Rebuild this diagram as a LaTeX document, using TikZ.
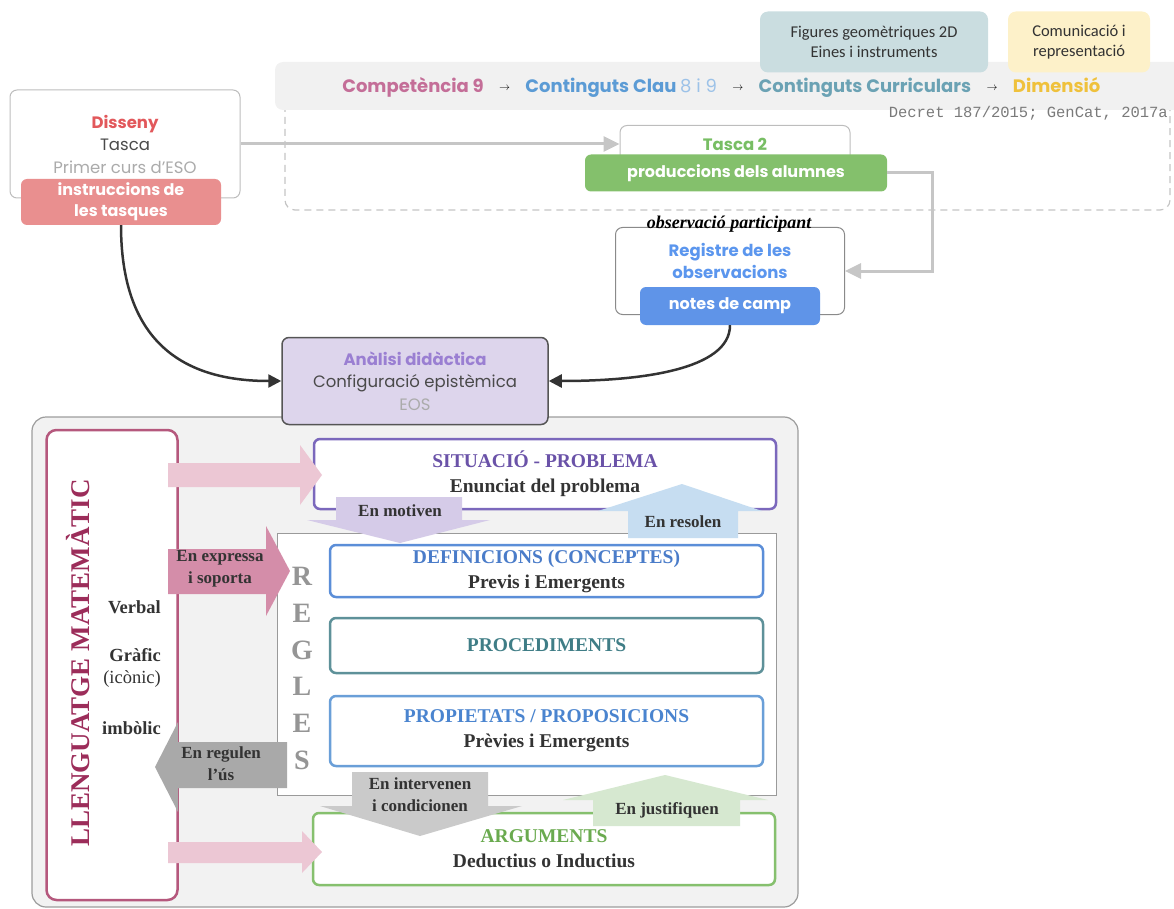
\documentclass[tikz,border=0pt]{standalone}
\usepackage{fontspec}
\setmainfont{Liberation Serif}
\newfontfamily\popfont{Poppins}
\newfontfamily\handfont{Carlito}
\newfontfamily\typefont{Liberation Mono}
\usetikzlibrary{positioning,arrows.meta}

\definecolor{txtdark}{HTML}{333333}
\definecolor{txtgray}{HTML}{4A4A4A}
\definecolor{paleTxt}{HTML}{ABABAB}
\definecolor{boxline}{HTML}{BDBDBD}
\definecolor{boxdark}{HTML}{8A8A8A}
\definecolor{dashline}{HTML}{C4C4C4}
\definecolor{band}{HTML}{F1F1F1}
\definecolor{compcol}{HTML}{C46E98}
\definecolor{claucol}{HTML}{5B9BD5}
\definecolor{claulight}{HTML}{9CC2E8}
\definecolor{curcol}{HTML}{6BA2B4}
\definecolor{dimcol}{HTML}{EFC13C}
\definecolor{geomfill}{HTML}{CADDE0}
\definecolor{dimfill}{HTML}{FDF1C9}
\definecolor{decretgray}{HTML}{7A7A7A}
\definecolor{dissred}{HTML}{E2585B}
\definecolor{tagred}{HTML}{E98F8F}
\definecolor{tascgreen}{HTML}{78BE64}
\definecolor{prodgreen}{HTML}{84C06C}
\definecolor{regblue}{HTML}{5B96EE}
\definecolor{notesblue}{HTML}{5F94E8}
\definecolor{linkgray}{HTML}{C6C6C6}
\definecolor{flowdark}{HTML}{333333}
\definecolor{analfill}{HTML}{DDD5EC}
\definecolor{analline}{HTML}{555555}
\definecolor{analpurple}{HTML}{9A7FD2}
\definecolor{panelfill}{HTML}{F2F2F2}
\definecolor{panelline}{HTML}{9C9C9C}
\definecolor{lengline}{HTML}{B5587D}
\definecolor{lengtext}{HTML}{9C2D5A}
\definecolor{sitline}{HTML}{7B68BC}
\definecolor{sitpurple}{HTML}{6A52A8}
\definecolor{reglesline}{HTML}{9A9A9A}
\definecolor{reglestxt}{HTML}{959595}
\definecolor{defline}{HTML}{5B8ED8}
\definecolor{defblue}{HTML}{4A7CC9}
\definecolor{procline}{HTML}{5E9199}
\definecolor{procteal}{HTML}{3F7D86}
\definecolor{propline}{HTML}{6A9FD8}
\definecolor{propblue}{HTML}{4A84CF}
\definecolor{argline}{HTML}{86C06E}
\definecolor{arggreen}{HTML}{6AAA4F}
\definecolor{pinksoft}{HTML}{ECC7D4}
\definecolor{pinkdeep}{HTML}{D48DA9}
\definecolor{graydeep}{HTML}{A9A9A9}
\definecolor{graysoft}{HTML}{CACACA}
\definecolor{lavsoft}{HTML}{D5CBE8}
\definecolor{bluesoft}{HTML}{C6DDF1}
\definecolor{greensoft}{HTML}{D6E8D0}

\newcommand\sansreg{\popfont\fontsize{16.5}{22.5}\selectfont}
\newcommand\sansbold{\popfont\bfseries\fontsize{16.5}{22}\selectfont}
\newcommand\bandfont{\popfont\bfseries\fontsize{18}{22}\selectfont}
\newcommand\tagfont{\popfont\bfseries\fontsize{16}{21}\selectfont}
\newcommand\handtxt{\handfont\fontsize{16.5}{20}\selectfont}
\newcommand\typetxt{\typefont\fontsize{15.5}{18}\selectfont}
\newcommand\obsfont{\bfseries\itshape\fontsize{18}{20}\selectfont}
\newcommand\boxfont{\bfseries\fontsize{19.5}{25}\selectfont}
\newcommand\lblfont{\bfseries\fontsize{17}{22}\selectfont}
\newcommand\sidefont{\bfseries\fontsize{18.5}{22}\selectfont}
\newcommand\reglefont{\bfseries\fontsize{28}{30}\selectfont}
\newcommand\lengfont{\bfseries\fontsize{27}{30}\selectfont}
\newcommand\smallarrow{{\fontsize{11}{12}\selectfont$\rightarrow$}}

\begin{document}
\begin{tikzpicture}[x=1pt,y=-1pt,node distance=15pt,
    box/.style={draw=boxline, line width=1pt, rounded corners=7pt, fill=white},
    tag/.style={rounded corners=6pt, text=white, align=center, font=\tagfont},
    link/.style={draw=linkgray, line width=3pt, -{Triangle[length=16pt,width=15pt]}},
    flow/.style={draw=flowdark, line width=2.5pt, -{Triangle[length=13pt,width=13pt]}},
    eos/.style={draw, line width=2.5pt, rounded corners=6pt, fill=white, align=center, font=\boxfont, text=txtdark},
    lbl/.style={align=center, font=\lblfont, text=txtdark, inner sep=0pt},
    side/.style={anchor=east, font=\sidefont, text=txtdark, inner sep=0pt},
    bandtxt/.style={font=\bandfont, inner sep=0pt, text height=13pt, text depth=4pt}]

\useasboundingbox (0,0) rectangle (1174,909);
\clip (0,0) rectangle (1174,909);

% marc curricular
\draw[dashline, dashed, dash pattern=on 7pt off 5pt, rounded corners=10pt, line width=1.2pt] (285,95) rectangle (1170,210);
\fill[band, rounded corners=8pt] (275,62) rectangle (1200,110);

\node[bandtxt, text=compcol] (comp) at (413,88) {Competència 9};
\node (ar1) [right=of comp, inner sep=0pt] {\smallarrow};
\node (clau) [right=of ar1, bandtxt, text=claucol] {Continguts Clau {\mdseries\color{claulight}8 i 9}};
\node (ar2) [right=of clau, inner sep=0pt] {\smallarrow};
\node (curr) [right=of ar2, bandtxt, text=curcol] {Continguts Curriculars};
\node (ar3) [right=of curr, inner sep=0pt] {\smallarrow};
\node (dim) [right=of ar3, bandtxt, text=dimcol] {Dimensió};

\node[fill=geomfill, rounded corners=8pt, minimum width=228, minimum height=61, align=center, font=\handtxt, text=txtdark] (geom) at (874,42) {Figures geomètriques 2D\\Eines i instruments};
\node[fill=dimfill, rounded corners=8pt, minimum width=142, minimum height=61, align=center, font=\handtxt, text=txtdark] (dimbox) at (1079,42) {Comunicació i\\representació};
\node[font=\typetxt, text=decretgray, anchor=east, inner sep=0pt] (decret) at (1168,113) {Decret 187/2015; GenCat, 2017a};

% disseny i recollida de dades
\node[box, minimum width=230, minimum height=108, align=center, font=\sansreg, text=txtgray] (disseny) at (125,144)
  {{\bfseries\color{dissred}Disseny}\\Tasca\\{\color{paleTxt}Primer curs d’ESO}};
\node[tag, fill=tagred, minimum width=200, minimum height=46] (instr) at (121,202) {instruccions de\\les tasques};

\node[box, minimum width=230, minimum height=49] (tasca) at (735,150) {};
\node[font=\sansbold, text=tascgreen] (tascatxt) at (735,144) {Tasca 2};
\node[tag, fill=prodgreen, minimum width=302, minimum height=37] (prod) at (736,173) {produccions dels alumnes};

\node[box, draw=boxdark, minimum width=229, minimum height=87] (registre) at (730,271) {};
\node[font=\sansbold, text=regblue, align=center] (regtxt) at (730,261) {Registre de les\\observacions};
\node[font=\obsfont, text=black] (obs) at (729,224) {observació participant};
\node[tag, fill=notesblue, minimum width=180, minimum height=38] (notes) at (730,306) {notes de camp};

\draw[link] (disseny.east) -- (disseny.east -| tasca.west);
\draw[link] (prod.east) -- ++(45,0) |- (registre.east);

% configuracio epistemica
\draw[panelline, fill=panelfill, rounded corners=14pt, line width=1.2pt] (32,417) rectangle (798,907);

\node[box, draw=analline, fill=analfill, line width=1.5pt, minimum width=266, minimum height=87, align=center, font=\sansreg, text=txtgray] (anal) at (415,381)
  {{\bfseries\color{analpurple}Anàlisi didàctica}\\Configuració epistèmica\\{\color{paleTxt}EOS}};

\draw[flow] (instr.south) .. controls +(0,115) and +(-100,0) .. (anal.west);
\draw[flow] (notes.south) .. controls +(0,45) and +(90,0) .. (anal.east);

\node[draw=lengline, line width=2.5pt, fill=white, rounded corners=10pt, minimum width=131, minimum height=470] (lleng) at (112,665) {};
\node[rotate=90, font=\lengfont, text=lengtext] (llengtxt) at (78,663) {LLENGUATGE MATEMÀTIC};
\node[side] (verbal) at (161,607) {Verbal};
\node[side] (grafic) at (161,655) {Gràfic};
\node[side, font=\fontsize{18.5}{22}\selectfont] (iconic) at (161,679) {(icònic)};
\node[side] (simbolic) at (161,728) {imbòlic};

\node[eos, draw=sitline, minimum width=462, minimum height=70] (situacio) at (545,474)
  {{\color{sitpurple}SITUACIÓ - PROBLEMA}\\Enunciat del problema};

\node[draw=reglesline, line width=1pt, fill=white, minimum width=499, minimum height=262] (regles) at (526.5,664) {};
\foreach \l [count=\i] in {R,E,G,L,E,S}
  \node[font=\reglefont, text=reglestxt] (r\i) at (302,539.5+36.8*\i) {\l};

\node[eos, draw=defline, minimum width=433, minimum height=52] (defin) at (546.5,571)
  {{\color{defblue}DEFINICIONS (CONCEPTES)}\\Previs i Emergents};
\node[eos, draw=procline, minimum width=433, minimum height=55] (proc) at (546.5,645.5)
  {{\color{procteal}PROCEDIMENTS}};
\node[eos, draw=propline, minimum width=433, minimum height=70] (prop) at (546.5,731)
  {{\color{propblue}PROPIETATS / PROPOSICIONS}\\Prèvies i Emergents};
\node[eos, draw=argline, minimum width=462, minimum height=72] (argum) at (544,849)
  {{\color{arggreen}ARGUMENTS}\\Deductius o Inductius};

% fletxes de relacio
\fill[pinksoft] (168,463) -- (300,463) -- (300,445) -- (322,475) -- (300,505) -- (300,487) -- (168,487) -- cycle;
\fill[pinksoft] (168,842) -- (302,842) -- (302,831) -- (322,852) -- (302,873) -- (302,863) -- (168,863) -- cycle;

\fill[pinkdeep] (168,549) -- (266,549) -- (266,526) -- (290,571) -- (266,616) -- (266,594) -- (168,594) -- cycle;
\node[lbl] (expressa) at (220,569) {En expressa\\i soporta};

\fill[graydeep] (287,742) -- (178,742) -- (178,722) -- (155,767) -- (178,812) -- (178,788) -- (287,788) -- cycle;
\node[lbl] (regulen) at (221,764) {En regulen\\l’ús};

\fill[lavsoft] (336,497) -- (462,497) -- (462,520) -- (490,520) -- (400,543) -- (307,520) -- (336,520) -- cycle;
\node[lbl] (motiven) at (400,511) {En motiven};

\fill[bluesoft] (628,538) -- (738,538) -- (738,511) -- (762,511) -- (682,484) -- (598,511) -- (628,511) -- cycle;
\node[lbl] (resolen) at (683,522) {En resolen};

\fill[graysoft] (352,772) -- (488,772) -- (488,806) -- (522,806) -- (420,836) -- (320,806) -- (352,806) -- cycle;
\node[lbl] (intervenen) at (420,795) {En intervenen\\i condicionen};

\fill[greensoft] (593,826) -- (740,826) -- (740,800) -- (768,800) -- (665,775) -- (563,800) -- (593,800) -- cycle;
\node[lbl] (justifiquen) at (667,810) {En justifiquen};

\end{tikzpicture}
\end{document}
